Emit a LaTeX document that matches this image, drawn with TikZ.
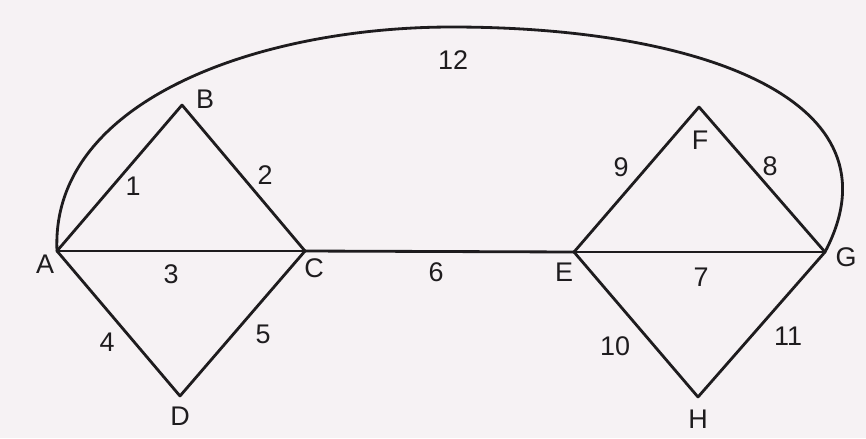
\documentclass[tikz,border=0pt]{standalone}
\usepackage{fontspec}
\setmainfont{Liberation Sans}
\definecolor{paper}{RGB}{246,242,244}
\definecolor{ink}{RGB}{30,28,30}
\tikzset{
  vertex/.style = {inner sep=0pt, minimum size=0pt, outer sep=0pt},
  vname/.style  = {font=\fontsize{23}{27}\selectfont, text=ink, inner sep=0pt},
  wlabel/.style = {font=\fontsize{23}{27}\selectfont, text=ink, inner sep=0pt},
  edge/.style   = {line width=2.4pt, draw=ink, line join=miter, line cap=round}
}
\begin{document}
\begin{tikzpicture}[x=0.03cm, y=-0.03cm]
\fill[paper] (0,0) rectangle (866,438);
\useasboundingbox (0,0) rectangle (866,438);
% vertices
\foreach \n/\x/\y in {A/57/251, B/182/105, C/305/251, D/180/396,
                      E/574/252, F/699/107, G/825/252, H/698/397} {
  \node[vertex] (\n) at (\x,\y) {};
}
% vertex names
\foreach \n/\x/\y in {A/45/264, B/205/99, C/314/268, D/180/416,
                      E/564/272, F/700/140, G/846/257, H/698/419} {
  \node[vname] (l\n) at (\x,\y) {\n};
}
% edges
\foreach \a/\b in {A/B, B/C, A/C, A/D, D/C, C/E, E/G, G/F, F/E, E/H, H/G} {
  \draw[edge] (\a) -- (\b);
}
% edge 12
\coordinate (top) at (452,27);
\draw[edge] (A) .. controls (50,100) and (260,27) .. (top)
               .. controls (700,27) and (905,100) .. (G);
% edge numbers
\foreach \k/\x/\y in {1/133/186, 2/265/175, 3/171/274, 4/107/342,
                      5/263/334, 6/436/272, 7/701/277, 8/770/166,
                      9/621/167, 10/615/346, 11/788/336, 12/453/60} {
  \node[wlabel] (e\k) at (\x,\y) {\k};
}
\end{tikzpicture}
\end{document}
